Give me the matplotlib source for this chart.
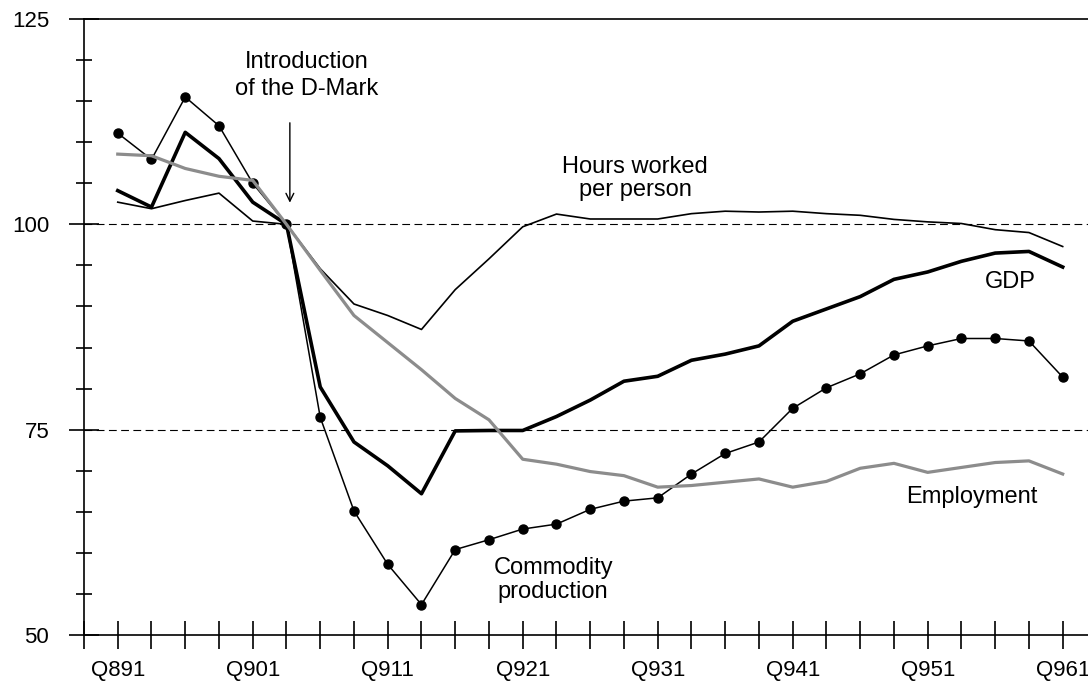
import matplotlib
matplotlib.use("Agg")
import matplotlib.pyplot as plt
import numpy as np

plt.rcParams["font.family"] = ["Liberation Sans", "DejaVu Sans"]

# Quarterly index values, Q1 1990 = 100
quarters = ["Q891", "Q892", "Q893", "Q894", "Q901", "Q902", "Q903", "Q904",
            "Q911", "Q912", "Q913", "Q914", "Q921", "Q922", "Q923", "Q924",
            "Q931", "Q932", "Q933", "Q934", "Q941", "Q942", "Q943", "Q944",
            "Q951", "Q952", "Q953", "Q954", "Q961"]

commodity = [111.1, 107.9, 115.5, 112.0, 105.0, 100.0, 76.5, 65.1, 58.6, 53.7,
             60.4, 61.6, 62.9, 63.5, 65.3, 66.3, 66.7, 69.6, 72.1, 73.5,
             77.6, 80.1, 81.8, 84.1, 85.2, 86.1, 86.1, 85.8, 81.4]
gdp = [104.1, 102.1, 111.2, 108.0, 102.7, 100.0, 80.2, 73.5, 70.6, 67.2,
       74.85, 74.9, 74.9, 76.6, 78.6, 80.9, 81.5, 83.45, 84.2, 85.2,
       88.2, 89.7, 91.2, 93.3, 94.2, 95.5, 96.5, 96.7, 94.8]
hours = [102.7, 101.9, 102.9, 103.8, 100.4, 100.0, 94.6, 90.3, 88.9, 87.2,
         92.05, 95.8, 99.7, 101.25, 100.65, 100.65, 100.65, 101.3, 101.6, 101.5,
         101.6, 101.3, 101.1, 100.6, 100.3, 100.1, 99.35, 99.0, 97.3]
employment = [108.55, 108.35, 106.8, 105.85, 105.35, 100.0, 94.4, 88.9, 85.6, 82.3,
              78.8, 76.2, 71.4, 70.8, 69.9, 69.4, 68.0, 68.2, 68.6, 69.0,
              68.0, 68.7, 70.3, 70.9, 69.8, 70.4, 71.0, 71.2, 69.6]

x = np.arange(len(quarters))

fig = plt.figure(figsize=(10.88, 6.81), dpi=100)
ax = fig.add_axes([84 / 1088, 46 / 681, 1 - 84 / 1088, 616 / 681])

# reference lines
for yv in (100, 75):
    ax.axhline(yv, color="black", lw=0.8, dashes=(7, 4), zorder=1)

ax.plot(x, hours, color="black", lw=1.2, zorder=3)
ax.plot(x, commodity, color="black", lw=1.1, marker="o", markersize=6.5, zorder=3)
ax.plot(x, gdp, color="black", lw=2.6, zorder=4)
ax.plot(x, employment, color="#8c8c8c", lw=2.3, zorder=5)

ax.set_xlim(-1, 28.75)
ax.set_ylim(50, 125)

# axes styling
ax.spines["right"].set_visible(False)
for s in ("left", "top", "bottom"):
    ax.spines[s].set_linewidth(1.2)

ax.set_yticks([50, 75, 100, 125])
ax.set_yticks(np.arange(55, 125, 5), minor=True)
ax.tick_params(axis="y", which="major", direction="inout", length=22, width=1.2,
               labelsize=16, pad=14)
ax.tick_params(axis="y", which="minor", direction="inout", length=11.5, width=1.2)

ax.set_xticks(np.arange(-1, len(quarters)))
ax.set_xticklabels([""] + [q if i % 4 == 0 else "" for i, q in enumerate(quarters)])
ax.tick_params(axis="x", which="major", direction="inout", length=19.5, width=1.2,
               labelsize=16, pad=8)

# annotations
fs = 17
ax.text(5.6, 118.1, "Introduction\nof the D-Mark", ha="center", va="center", fontsize=fs,
        linespacing=1.3)
ax.annotate("", xy=(5.1, 102.3), xytext=(5.1, 112.7),
            arrowprops=dict(arrowstyle="->", color="black", lw=1.0, mutation_scale=14))
ax.text(15.33, 105.6, "Hours worked\nper person", ha="center", va="center", fontsize=fs,
        linespacing=1.08)
ax.text(26.44, 93.0, "GDP", ha="center", va="center", fontsize=fs)
ax.text(12.9, 56.7, "Commodity\nproduction", ha="center", va="center", fontsize=fs,
        linespacing=1.12)
ax.text(25.3, 66.8, "Employment", ha="center", va="center", fontsize=fs)

fig.savefig("out.png", dpi=100)
